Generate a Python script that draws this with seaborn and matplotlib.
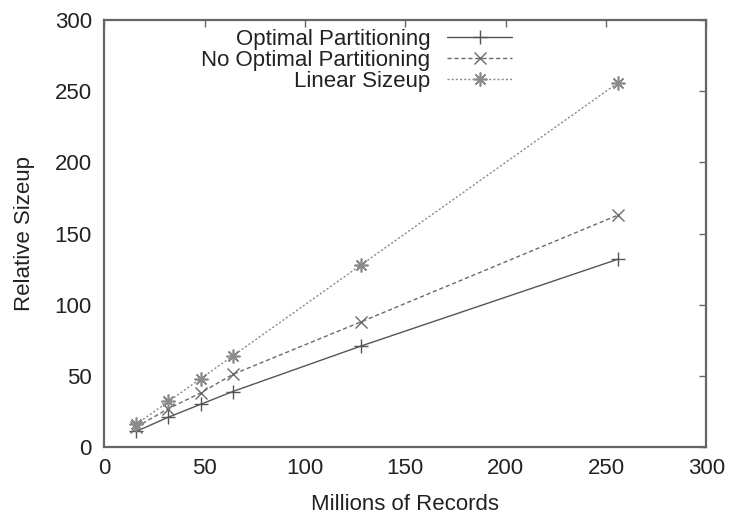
import matplotlib

matplotlib.use("Agg")

import matplotlib.pyplot as plt
import numpy as np
import pandas as pd
import seaborn as sns

# 数据
records = [16, 32, 48, 64, 128, 256]
optimal = [11, 21, 30, 39, 71, 132]
no_optimal = [14, 27, 38, 51, 88, 163]
linear = [16, 32, 48, 64, 128, 256]

series_names = ["Optimal Partitioning", "No Optimal Partitioning", "Linear Sizeup"]
x_ticks = [0, 50, 100, 150, 200, 250, 300]
y_ticks = [0, 50, 100, 150, 200, 250, 300]

sns.set_theme(style="white")
plt.rcParams["font.family"] = ["Liberation Sans", "DejaVu Sans"]

FS = 16

fig = plt.figure(figsize=(7.29, 5.15), dpi=100)
ax = fig.add_axes([0.143, 0.132, 0.826, 0.829])

styles = [
    dict(color="#555555", linestyle="-", marker="+", markersize=10, mew=1.0),
    dict(color="#6a6a6a", linestyle=(0, (3, 2)), marker="x", markersize=9, mew=1.0),
    dict(color="#8a8a8a", linestyle=(0, (1.5, 1.5)), marker=(8, 2, 0), markersize=10, mew=1.2),
]

for name, values, st in zip(series_names, [optimal, no_optimal, linear], styles):
    df = pd.DataFrame({"records": records, "sizeup": values})
    sns.lineplot(
        data=df, x="records", y="sizeup", ax=ax, label=name,
        linewidth=1.0, markeredgecolor=st["color"], **st,
    )

ax.set_xlim(0, 300)
ax.set_ylim(0, 300)
ax.set_xticks(x_ticks)
ax.set_yticks(y_ticks)
ax.set_xlabel("Millions of Records", fontsize=FS, color="#222222", labelpad=11)
ax.set_ylabel("Relative Sizeup", fontsize=FS, color="#222222", labelpad=14)
ax.tick_params(axis="both", direction="in", length=5, width=1.0, color="#666666",
               labelsize=FS, labelcolor="#222222", top=True, right=True)
ax.tick_params(axis="x", pad=8)
ax.tick_params(axis="y", pad=9)
for spine in ax.spines.values():
    spine.set_color("#666666")
    spine.set_linewidth(1.6)

ax.legend(
    loc="upper right", bbox_to_anchor=(0.697, 1.008), frameon=False,
    markerfirst=False, fontsize=FS, handlelength=2.9, labelspacing=0.0,
    handletextpad=0.75, borderaxespad=0.15,
)
for txt in ax.get_legend().get_texts():
    txt.set_color("#222222")

fig.savefig("out.png", dpi=100)
